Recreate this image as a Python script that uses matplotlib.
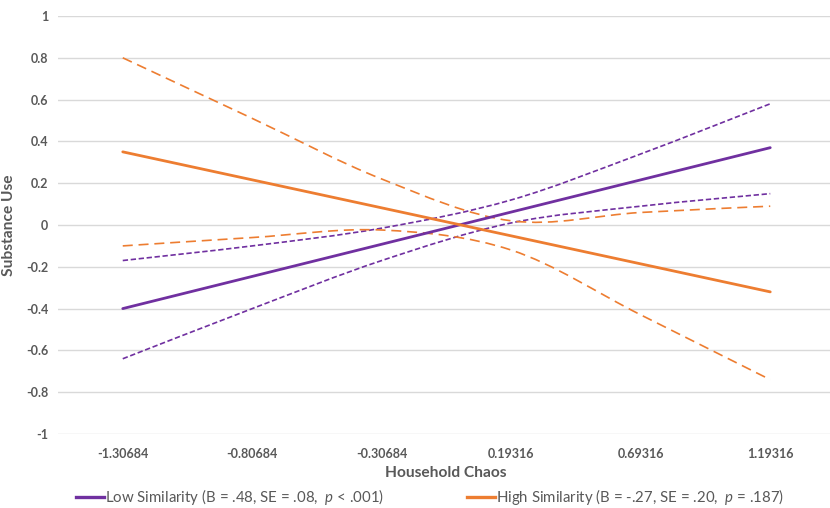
import matplotlib
matplotlib.use('Agg')
import matplotlib.pyplot as plt
from matplotlib.path import Path
from matplotlib.patches import PathPatch
from matplotlib.lines import Line2D
import numpy as np

plt.rcParams['font.family'] = ['Lato', 'DejaVu Sans']
plt.rcParams['mathtext.fontset'] = 'custom'
plt.rcParams['mathtext.it'] = 'Lato:italic'
plt.rcParams['mathtext.rm'] = 'Lato'

# Данные
categories = ['-1.30684', '-0.80684', '-0.30684', '0.19316', '0.69316', '1.19316']
low_mean = [-0.40, -0.246, -0.092, 0.062, 0.216, 0.37]
low_upper = [-0.17, -0.10, -0.015, 0.12, 0.34, 0.58]
low_lower = [-0.64, -0.40, -0.17, 0.01, 0.09, 0.15]
high_mean = [0.35, 0.216, 0.082, -0.052, -0.186, -0.32]
high_upper = [0.80, 0.51, 0.22, 0.02, 0.06, 0.09]
high_lower = [-0.10, -0.06, -0.024, -0.12, -0.43, -0.74]
legend_labels = ['Low Similarity (B = .48, SE = .08,  $p$ < .001)',
                 'High Similarity (B = -.27, SE = .20,  $p$ = .187)']

purple = '#7030A0'
orange = '#ED7D31'
grey = '#595959'


def smooth_path(ys):
	# сглаженная линия как в Excel (Безье через точки)
	pts = np.column_stack([np.arange(len(ys)), ys]).astype(float)
	verts = [pts[0]]
	codes = [Path.MOVETO]
	for i in range(len(pts) - 1):
		p0 = pts[max(i - 1, 0)]
		p1 = pts[i]
		p2 = pts[i + 1]
		p3 = pts[min(i + 2, len(pts) - 1)]
		verts += [p1 + (p2 - p0) / 6, p2 - (p3 - p1) / 6, p2]
		codes += [Path.CURVE4] * 3
	return Path(verts, codes)


W, H = 830, 508
fig = plt.figure(figsize=(W / 100, H / 100), dpi=100)
ax = fig.add_axes([58 / W, 74 / H, 777 / W, 418 / H])

x = np.arange(len(categories))
ax.plot(x, low_mean, color=purple, lw=2.0, solid_capstyle='round', zorder=4)
ax.plot(x, high_mean, color=orange, lw=2.0, solid_capstyle='round', zorder=4)

for ys in (low_upper, low_lower):
	ax.add_patch(PathPatch(smooth_path(ys), fill=False, edgecolor=purple, lw=1.2,
	                       linestyle=(0, (3.2, 1.6)), zorder=3))
for ys in (high_upper, high_lower):
	ax.add_patch(PathPatch(smooth_path(ys), fill=False, edgecolor=orange, lw=1.2,
	                       linestyle=(0, (6, 3.5)), zorder=3))

ax.set_xlim(-0.5, len(categories) - 0.5)
ax.set_ylim(-1, 1)
ax.set_yticks(np.arange(-1, 1.01, 0.2))
ax.set_yticklabels(['-1', '-0.8', '-0.6', '-0.4', '-0.2', '0', '0.2', '0.4', '0.6', '0.8', '1'])
ax.set_xticks(x)
ax.set_xticklabels(categories)
ax.grid(axis='y', color='#D9D9D9', lw=1.0)
ax.set_axisbelow(True)
for s in ax.spines.values():
	s.set_visible(False)
ax.tick_params(axis='y', length=0, labelsize=9, labelcolor=grey, pad=7)
ax.tick_params(axis='x', length=0, labelsize=9, labelcolor=grey, pad=10)
for lab in ax.get_xticklabels() + ax.get_yticklabels():
	lab.set_fontweight('bold')

ax.set_xlabel('Household Chaos', fontsize=11.2, fontweight='bold', color=grey)
ax.set_ylabel('Substance Use', fontsize=11.2, fontweight='bold', color=grey)
ax.xaxis.set_label_coords((446 - 58) / 777, (434 - 466) / 418)
ax.yaxis.set_label_coords((16 - 58) / 777, 0.5)

# Легенда: две записи, как в Excel
for color, label, x0 in ((purple, legend_labels[0], 76), (orange, legend_labels[1], 467)):
	fig.legend([Line2D([], [], color=color, lw=2.4)], [label], loc='center left',
	           bbox_to_anchor=(x0 / W, 1 - 497 / H), frameon=False, fontsize=10.8,
	           handlelength=1.85, handletextpad=0.1, borderpad=0, borderaxespad=0,
	           labelcolor=grey)

fig.savefig('out.png', dpi=100)
